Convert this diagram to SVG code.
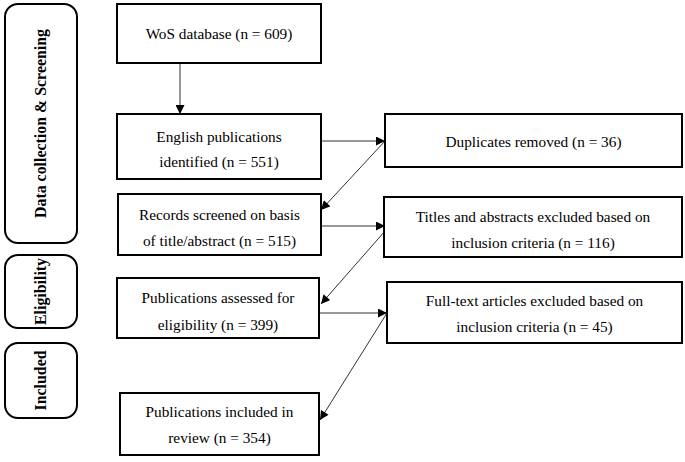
<svg xmlns="http://www.w3.org/2000/svg" width="685" height="462" viewBox="0 0 685 462">
<style>
.box{fill:#fff;stroke:#000;stroke-width:2}
.phase{fill:#fff;stroke:#000;stroke-width:2}
.t{font-family:"Liberation Serif","Times New Roman",serif;font-size:15.3px;fill:#000;text-anchor:middle}
.pt{font-family:"Liberation Serif","Times New Roman",serif;font-size:15.9px;font-weight:bold;fill:#000;text-anchor:middle}
.c{stroke:#333;stroke-width:1;fill:none;marker-end:url(#ah)}
</style>
<defs>
<marker id="ah" viewBox="0 0 10 10" refX="10" refY="5" markerWidth="10" markerHeight="9" markerUnits="userSpaceOnUse" orient="auto">
<path d="M0,0 L10,5 L0,10 Z" fill="#000"/>
</marker>
</defs>
<rect width="685" height="462" fill="#fff"/>
<g id="phase-screening">
<rect class="phase" x="5" y="4" width="72" height="239" rx="13"/>
<text class="pt" transform="translate(46,123.5) rotate(-90)">Data collection &amp; Screening</text>
</g>
<g id="phase-eligibility">
<rect class="phase" x="5" y="255" width="72" height="73" rx="13"/>
<text class="pt" transform="translate(46,291.5) rotate(-90)">Eligibility</text>
</g>
<g id="phase-included">
<rect class="phase" x="5" y="343" width="72" height="75" rx="13"/>
<text class="pt" transform="translate(46,380.5) rotate(-90)">Included</text>
</g>
<g id="connectors">
<line class="c" x1="180" y1="63" x2="180" y2="114"/>
<line class="c" x1="321" y1="141" x2="385" y2="141"/>
<line class="c" x1="385" y1="141" x2="321" y2="210"/>
<line class="c" x1="321" y1="226" x2="385" y2="226"/>
<line class="c" x1="385" y1="231" x2="321" y2="304"/>
<line class="c" x1="317" y1="313" x2="387" y2="313"/>
<line class="c" x1="387" y1="313" x2="320" y2="420"/>
</g>
<g id="wos">
<rect class="box" x="117" y="4" width="204" height="59"/>
<text class="t" x="219" y="39">WoS database (n = 609)</text>
</g>
<g id="english">
<rect class="box" x="117" y="114" width="204" height="65"/>
<text class="t" x="219" y="142">English publications</text>
<text class="t" x="219" y="167">identified (n = 551)</text>
</g>
<g id="records">
<rect class="box" x="118" y="194" width="203" height="61"/>
<text class="t" x="219.5" y="220">Records screened on basis</text>
<text class="t" x="219.5" y="246">of title/abstract (n = 515)</text>
</g>
<g id="assessed">
<rect class="box" x="117" y="278" width="202" height="60"/>
<text class="t" x="218" y="303">Publications assessed for</text>
<text class="t" x="218" y="330">eligibility (n = 399)</text>
</g>
<g id="included">
<rect class="box" x="120" y="393" width="199" height="62"/>
<text class="t" x="219.5" y="417">Publications included in</text>
<text class="t" x="219.5" y="443">review (n = 354)</text>
</g>
<g id="duplicates">
<rect class="box" x="385" y="114" width="297" height="53"/>
<text class="t" x="533.5" y="147">Duplicates removed (n = 36)</text>
</g>
<g id="titles">
<rect class="box" x="384" y="197" width="298" height="60"/>
<text class="t" x="533" y="222">Titles and abstracts excluded based on</text>
<text class="t" x="533" y="248">inclusion criteria (n = 116)</text>
</g>
<g id="fulltext">
<rect class="box" x="387" y="282" width="295" height="61"/>
<text class="t" x="534.5" y="306">Full-text articles excluded based on</text>
<text class="t" x="534.5" y="332">inclusion criteria (n = 45)</text>
</g>
</svg>
